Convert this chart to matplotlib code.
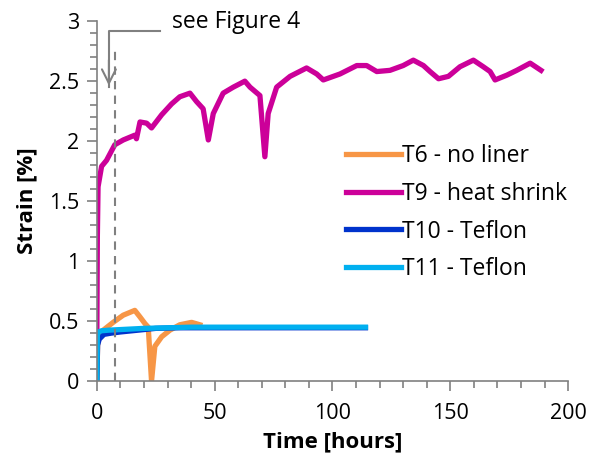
import matplotlib
matplotlib.use('Agg')
import matplotlib.pyplot as plt
from matplotlib.ticker import MultipleLocator, FuncFormatter

# T6 - no liner
t6_time = [0, 0.3, 1, 2.7, 6.9, 11.2, 16.1, 18.3, 20.4, 21.8, 23.2, 24.6, 27.5, 31, 35.2, 40.2, 43.7]
t6_strain = [0.0, 0.3, 0.38, 0.425, 0.49, 0.55, 0.59, 0.535, 0.48, 0.45, 0.0, 0.29, 0.37, 0.425, 0.47, 0.49, 0.47]

# T9 - heat shrink
t9_time = [0, 0.2, 0.5, 2, 4.1, 7.6, 11.2, 16.1, 16.8, 18.3, 21.1, 23.2, 27.5, 31.7, 35.2, 39.5,
           42.3, 45.1, 47.3, 49.4, 53.6, 57.9, 62.8, 65, 69.2, 71.3, 72.7, 76.3, 82, 89, 93.3, 96.1,
           103.2, 110.3, 114.5, 118.8, 124.4, 130, 134.3, 138.6, 141.4, 145, 149.2, 154.1, 159.8,
           164, 166.9, 169, 174, 178.2, 183.9, 188.5]
t9_strain = [0.42, 1.2, 1.62, 1.79, 1.84, 1.97, 2.01, 2.05, 2.02, 2.16, 2.15, 2.11, 2.22, 2.31, 2.37, 2.40,
             2.33, 2.27, 2.01, 2.23, 2.40, 2.45, 2.50, 2.45, 2.38, 1.87, 2.23, 2.45, 2.54, 2.61, 2.56, 2.51,
             2.56, 2.63, 2.63, 2.58, 2.59, 2.63, 2.675, 2.63, 2.58, 2.52, 2.54, 2.62, 2.675,
             2.62, 2.58, 2.51, 2.55, 2.59, 2.65, 2.59]

# T10 - Teflon
t10_time = [0, 0.3, 1, 3, 6, 10, 15, 20, 25, 35, 50, 70, 90, 114]
t10_strain = [0.0, 0.30, 0.35, 0.39, 0.40, 0.41, 0.42, 0.43, 0.44, 0.445, 0.445, 0.445, 0.445, 0.445]

# T11 - Teflon
t11_time = [0, 0.2, 0.6, 2, 5, 10, 20, 30, 40, 60, 80, 100, 114]
t11_strain = [0.0, 0.38, 0.41, 0.42, 0.425, 0.43, 0.44, 0.445, 0.45, 0.45, 0.45, 0.45, 0.45]

plt.rcParams['font.family'] = ['Open Sans', 'DejaVu Sans']

fig = plt.figure(figsize=(5.98, 4.70), dpi=100)
ax = fig.add_axes([0.162, 0.189, 0.788, 0.766])

ax.plot(t6_time, t6_strain, color='#F79646', lw=3.8, label='T6 - no liner')
ax.plot(t9_time, t9_strain, color='#CC0099', lw=3.8, label='T9 - heat shrink')
ax.plot(t10_time, t10_strain, color='#0033CC', lw=3.8, label='T10 - Teflon')
ax.plot(t11_time, t11_strain, color='#00B0F0', lw=3.8, label='T11 - Teflon')

# marker for Figure 4
ax.plot([7.6, 7.6], [0, 2.78], color='#808080', lw=1.5, ls=(0, (4, 3)))
ax.plot([27, 5.1, 5.1], [2.92, 2.92, 2.45], color='#808080', lw=1.5)
ax.annotate('', xy=(5.1, 2.44), xytext=(5.1, 2.7),
            arrowprops=dict(arrowstyle='->', color='#808080', lw=1.5, mutation_scale=25))
ax.text(32, 2.995, 'see Figure 4', fontsize=16.5, va='center', ha='left')

ax.set_xlim(0, 200)
ax.set_ylim(0, 3)
ax.xaxis.set_major_locator(MultipleLocator(50))
ax.xaxis.set_minor_locator(MultipleLocator(10))
ax.yaxis.set_major_locator(MultipleLocator(0.5))
ax.yaxis.set_minor_locator(MultipleLocator(0.1))
ax.yaxis.set_major_formatter(FuncFormatter(lambda v, p: f'{v:g}'))

for s in ['top', 'right']:
    ax.spines[s].set_visible(False)
for s in ['left', 'bottom']:
    ax.spines[s].set_color('#808080')
    ax.spines[s].set_linewidth(1.2)
ax.tick_params(which='both', colors='#808080', labelcolor='black', labelsize=15.5, width=1.2)
ax.tick_params(which='major', length=7)
ax.tick_params(which='minor', length=5)
ax.tick_params(axis='x', pad=9)
ax.tick_params(axis='y', pad=6)

ax.set_xlabel('Time [hours]', fontsize=16, fontweight='bold', labelpad=5)
ax.set_ylabel('Strain [%]', fontsize=16, fontweight='bold', labelpad=8)

ax.legend(loc='upper left', bbox_to_anchor=(0.485, 0.716), frameon=False, fontsize=16.5,
          handlelength=2.4, handletextpad=0.05, labelspacing=0.6)

fig.savefig('out.png', dpi=100)
